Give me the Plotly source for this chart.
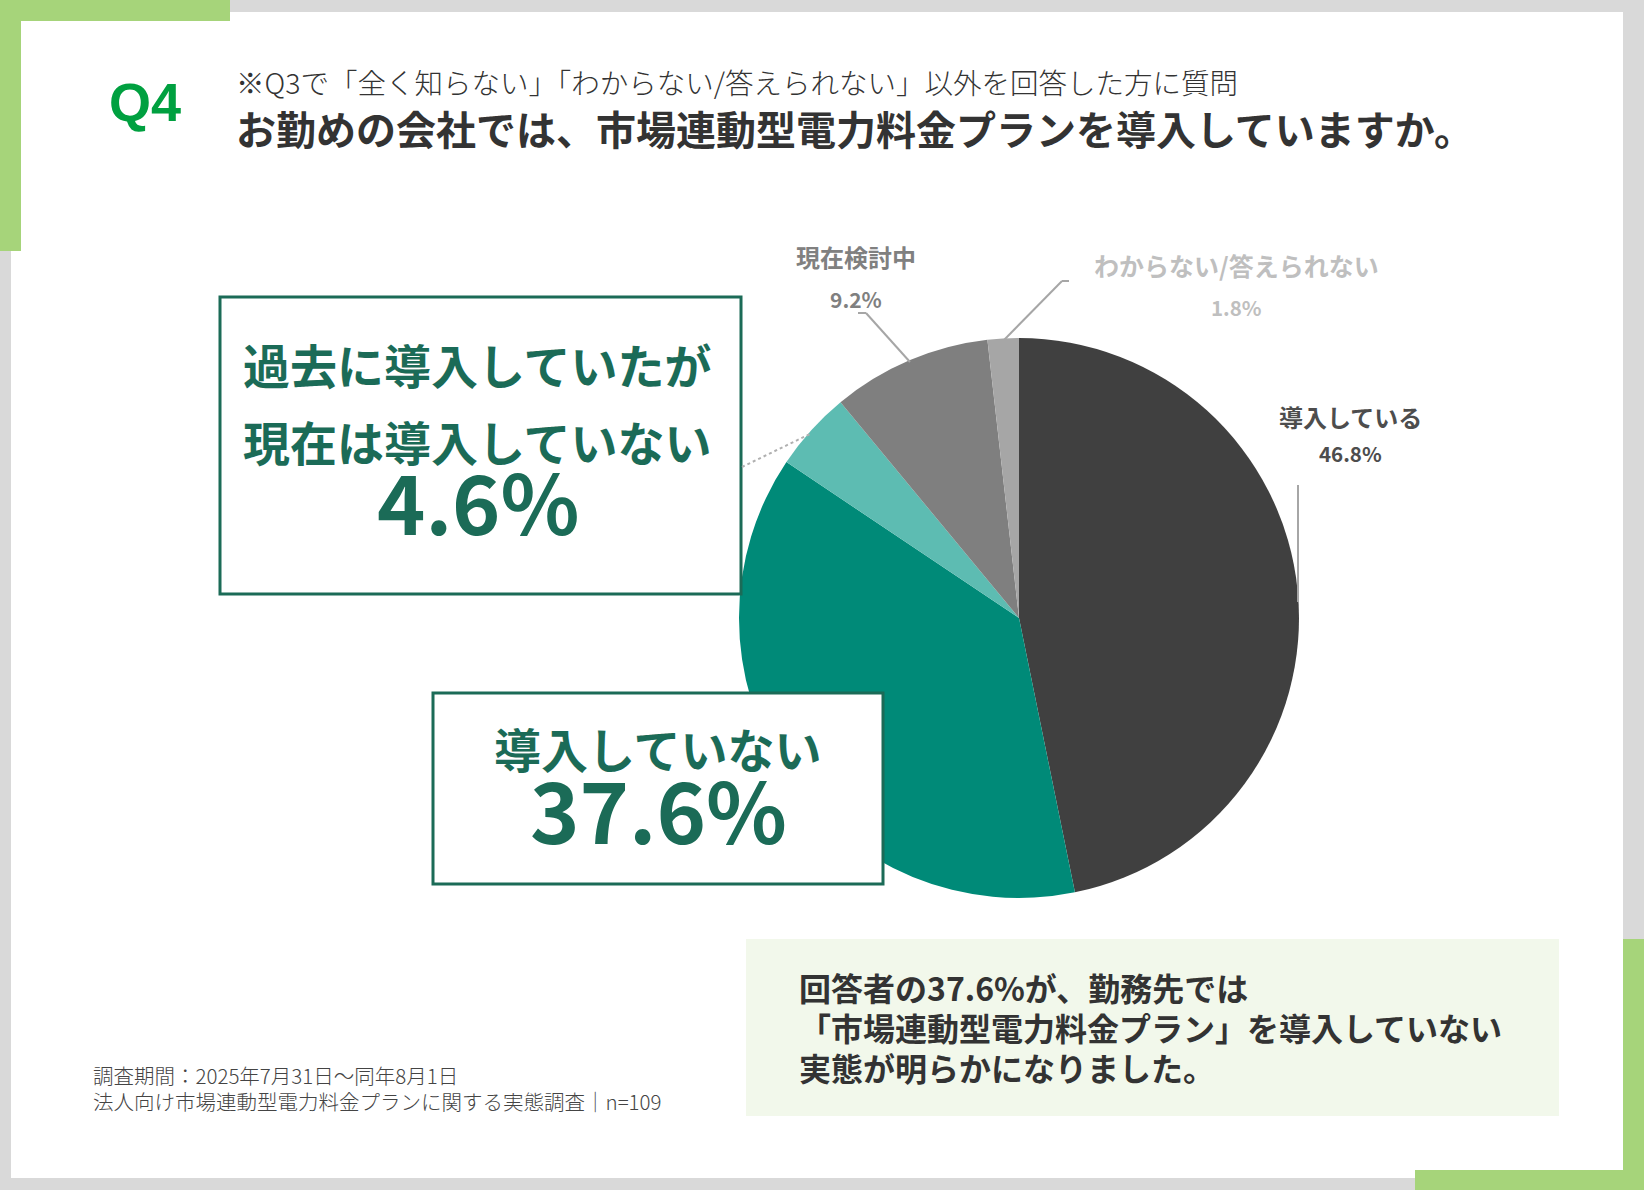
import plotly.graph_objects as go

# values (percent, n=109)
labels = ["導入している", "導入していない", "過去に導入していたが現在は導入していない",
          "現在検討中", "わからない/答えられない"]
values = [46.8, 37.6, 4.6, 9.2, 1.8]
colors = ["#404040", "#008a78", "#5dbcb2", "#7f7f7f", "#a6a6a6"]

title_note = "※Q3で「全く知らない」「わからない/答えられない」以外を回答した方に質問"
title_main = "お勤めの会社では、市場連動型電力料金プランを導入していますか。"
summary_lines = ["回答者の37.6%が、勤務先では",
                 "「市場連動型電力料金プラン」を導入していない",
                 "実態が明らかになりました。"]
footer_lines = ["調査期間：2025年7月31日～同年8月1日",
                "法人向け市場連動型電力料金プランに関する実態調査｜n=109"]

W, H = 1644, 1190
JP = "Noto Sans CJK JP"
GREEN_TXT = "#1b6b57"


def px(x):
    return x / W


def py(y):
    return 1 - y / H


def pct(v):
    return f"{v:.1f}%"


fig = go.Figure()

# pie: center (1019, 618), radius 280 px
cx, cy, r = 1019, 618, 280
fig.add_trace(go.Pie(
    labels=labels, values=values, sort=False, direction="clockwise", rotation=0,
    marker=dict(colors=colors, line=dict(width=0)),
    textinfo="none", hoverinfo="label+percent", showlegend=False,
    domain=dict(x=[px(cx - r), px(cx + r)], y=[py(cy + r), py(cy - r)]),
))

shapes = []


def rect(x0, y0, x1, y1, fill, line=None, layer="below"):
    shapes.append(dict(type="rect", xref="paper", yref="paper",
                       x0=px(x0), x1=px(x1), y0=py(y1), y1=py(y0),
                       fillcolor=fill, line=line or dict(width=0), layer=layer))


def seg(pts, color="#a6a6a6", width=2, dash="solid"):
    for (x0, y0), (x1, y1) in zip(pts[:-1], pts[1:]):
        shapes.append(dict(type="line", xref="paper", yref="paper",
                           x0=px(x0), y0=py(y0), x1=px(x1), y1=py(y1),
                           line=dict(color=color, width=width, dash=dash), layer="above"))


# page frame
rect(11, 12, 1623, 1178, "white")
rect(0, 0, 230, 21, "#a6d47a")
rect(0, 0, 21, 251, "#a6d47a")
rect(1623, 939, 1644, 1190, "#a6d47a")
rect(1415, 1170, 1644, 1190, "#a6d47a")

# callout boxes
rect(220, 297, 741, 594, "white", dict(color=GREEN_TXT, width=3), layer="above")
rect(433, 693, 883, 884, "white", dict(color=GREEN_TXT, width=3), layer="above")
rect(746, 939, 1559, 1116, "#f2f8eb")

# leader lines
seg([(1298, 485), (1298, 602)])
seg([(858, 313), (866, 313), (910, 362)])
seg([(1004, 340), (1062, 281), (1069, 281)])
seg([(742, 467), (812, 433)], color="#b0b0b0", width=2, dash="dot")

ann = []


def text(x, y, s, size, color, weight="normal", family=JP, xanchor="center"):
    ann.append(dict(x=px(x), y=py(y), xref="paper", yref="paper", text=s,
                    showarrow=False, xanchor=xanchor, yanchor="middle",
                    font=dict(family=family, size=size, color=color, weight=weight)))


text(145, 102, "Q4", 54, "#00a040", "bold", family="Liberation Sans")
text(234, 82, title_note, 28.5, "#333333", 300, xanchor="left")
text(234, 128, title_main, 40, "#333333", "bold", xanchor="left")

# small labels around the pie
text(1350, 416, labels[0], 24, "#4d4d4d", "bold")
text(1350, 453, pct(values[0]), 20.5, "#4d4d4d", "bold")
text(856, 256, labels[3], 24, "#808080", "bold")
text(856, 299, pct(values[3]), 21, "#808080", "bold")
text(1236, 265, labels[4], 25, "#bfbfbf", "bold")
text(1236, 307, pct(values[4]), 20.5, "#bfbfbf", "bold")

# big callouts
text(478, 363, labels[2][:10], 47, GREEN_TXT, "bold")
text(478, 440, labels[2][10:], 47, GREEN_TXT, "bold")
text(478, 499, pct(values[2]), 82, GREEN_TXT, "bold")
text(658, 747, labels[1], 47, GREEN_TXT, "bold")
text(658, 807, pct(values[1]), 84, GREEN_TXT, "bold")

for i, s in enumerate(summary_lines):
    text(797, 987 + i * 40, s, 32, "#333333", "bold", xanchor="left")
for i, s in enumerate(footer_lines):
    text(91, 1075 + i * 26, s, 20.5, "#444444", 300, xanchor="left")

fig.update_layout(
    width=W, height=H, margin=dict(l=0, r=0, t=0, b=0),
    paper_bgcolor="#d9d9d9", plot_bgcolor="#d9d9d9",
    shapes=shapes, annotations=ann,
)

# drop the browser's default 8px body margin so the figure fills the window
fig.write_html("out.html", config={"displayModeBar": False},
               post_script="document.body.style.margin='0';")
